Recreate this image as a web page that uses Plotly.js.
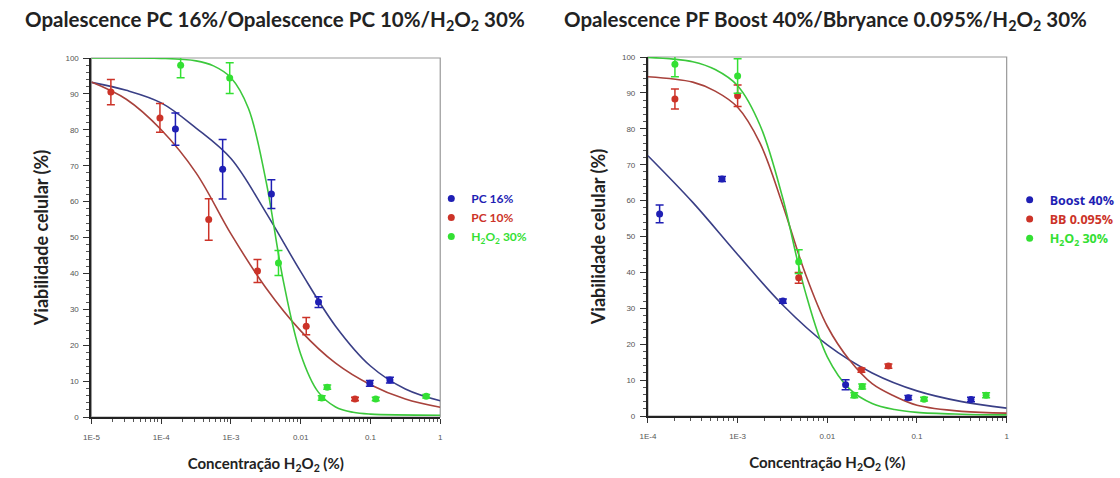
<!DOCTYPE html>
<html>
<head>
<meta charset="utf-8">
<script src="https://cdn.plot.ly/plotly-3.0.1.min.js"></script>
<style>html,body{margin:0;padding:0;background:#fff;}#chart{width:1120px;height:478px;}</style>
</head>
<body>
<div id="chart"></div>
<script>
// ---------- Left chart data (points) ----------
const pc16X = [1.6e-4, 7.6e-4, 3.8e-3, 0.018, 0.098, 0.19];
const pc16Y = [80.2, 69, 62.1, 32, 9.4, 10.3];
const pc16E = [4.5, 8.3, 4, 1.5, 0.8, 0.8];

const pc10X = [1.9e-5, 9.6e-5, 4.8e-4, 2.4e-3, 0.012, 0.06];
const pc10Y = [90.5, 83.3, 55, 40.7, 25.3, 5];
const pc10E = [3.5, 4, 5.8, 3.2, 2.4, 0.5];

const h2o2LX = [1.9e-4, 9.6e-4, 4.8e-3, 0.02, 0.024, 0.119, 0.63];
const h2o2LY = [98, 94.4, 42.9, 5.3, 8.3, 5, 5.8];
const h2o2LE = [3.5, 4.3, 3.5, 0.6, 0.6, 0.5, 0.5];

// ---------- Left chart fitted curves ----------
const curveHalfX = [1e-5, 3.162e-5, 1e-4, 3.162e-4, 1e-3, 3.162e-3, 1e-2, 3.162e-2, 0.1, 0.3162, 1];
const fitPc16Y = [93.2, 91, 87.5, 80.5, 72, 57, 40.5, 25.3, 14.2, 7.8, 4.5];
const fitPc10Y = [93.3, 88.5, 80, 68, 51, 36, 24, 15, 9, 5, 2.7];
const fitH2o2LX = [1e-5, 1e-4, 3.162e-4, 5.623e-4, 1e-3, 1.778e-3, 3.162e-3, 5.623e-3, 1e-2, 1.778e-2, 3.162e-2, 5.623e-2, 0.1, 1];
const fitH2o2LY = [100, 99.9, 99.2, 97.8, 94.5, 86, 66, 38, 17.5, 7, 2.8, 1.3, 0.8, 0.5];

// ---------- Right chart data (points) ----------
const boostX = [1.35e-4, 6.7e-4, 3.2e-3, 0.016, 0.08, 0.4];
const boostY = [56.3, 66, 32, 8.7, 5.1, 4.6];
const boostE = [2.5, 0.7, 0.6, 1.4, 0.6, 0.6];

const bbX = [2e-4, 1e-3, 4.8e-3, 0.024, 0.048];
const bbY = [88.3, 89.2, 38.5, 12.8, 13.9];
const bbE = [2.8, 3, 1.5, 0.6, 0.6];

const h2o2RX = [2e-4, 1e-3, 4.8e-3, 0.02, 0.0245, 0.12, 0.59];
const h2o2RY = [98, 94.7, 43, 5.8, 8.2, 4.7, 5.8];
const h2o2RE = [3.5, 4.8, 3.3, 0.7, 0.7, 0.5, 0.7];

// ---------- Right chart fitted curves ----------
const fitBoostX = [1e-4, 3.162e-4, 1e-3, 3.162e-3, 1e-2, 3.162e-2, 0.1, 0.3162, 1];
const fitBoostY = [72.5, 59.5, 45, 31, 19.8, 12, 7, 4, 2.2];
const fitQX = [1e-4, 3.162e-4, 5.623e-4, 1e-3, 1.778e-3, 3.162e-3, 5.623e-3, 1e-2, 1.778e-2, 3.162e-2, 5.623e-2, 0.1, 0.3162, 1];
const fitBbY = [94.5, 93, 90.5, 86, 76, 59, 40, 25, 15.5, 9, 5.5, 3, 1.3, 0.8];
const fitH2o2RY = [99.9, 98.7, 96.5, 92, 81, 61, 35, 16.5, 7.5, 3.5, 1.8, 1, 0.5, 0.3];

// ---------- Labels ----------
const titleLeft = 'Opalescence PC 16%/Opalescence PC 10%/H<sub>2</sub>O<sub>2</sub> 30%';
const titleRight = 'Opalescence PF Boost 40%/Bbryance 0.095%/H<sub>2</sub>O<sub>2</sub> 30%';
const xTitle = 'Concentração H<sub>2</sub>O<sub>2</sub> (%)';
const yTitle = 'Viabilidade celular (%)';
const leftTickVals = [1e-5, 1e-4, 1e-3, 0.01, 0.1, 1];
const leftTickText = ['1E-5', '1E-4', '1E-3', '0.01', '0.1', '1'];
const rightTickVals = [1e-4, 1e-3, 0.01, 0.1, 1];
const rightTickText = ['1E-4', '1E-3', '0.01', '0.1', '1'];
const yTickVals = [0, 10, 20, 30, 40, 50, 60, 70, 80, 90, 100];

const BLUE = '#1f1fb4', RED = '#cc3328', GREEN = '#33e033';
const BLUE_L = '#3a3f86', RED_L = '#a8423c', GREEN_L = '#3cc83c';

function pts(x, y, e, color, name, xa, ya, leg) {
  return {x: x, y: y, type: 'scatter', mode: 'markers', xaxis: xa, yaxis: ya,
    name: '<b><span style="color:' + color + '">' + name + '</span></b>', legend: leg,
    marker: {color: color, size: 7},
    error_y: {type: 'data', array: e, visible: true, color: color, thickness: 1.5, width: 4},
    cliponaxis: false};
}
function fit(x, y, color, xa, ya) {
  return {x: x, y: y, type: 'scatter', mode: 'lines', xaxis: xa, yaxis: ya, showlegend: false,
    line: {color: color, width: 1.6, shape: 'spline', smoothing: 1}, hoverinfo: 'skip'};
}

const traces = [
  fit(curveHalfX, fitPc16Y, BLUE_L, 'x', 'y'),
  fit(curveHalfX, fitPc10Y, RED_L, 'x', 'y'),
  fit(fitH2o2LX, fitH2o2LY, GREEN_L, 'x', 'y'),
  pts(pc16X, pc16Y, pc16E, BLUE, 'PC 16%', 'x', 'y', 'legend'),
  pts(pc10X, pc10Y, pc10E, RED, 'PC 10%', 'x', 'y', 'legend'),
  pts(h2o2LX, h2o2LY, h2o2LE, GREEN, 'H<sub>2</sub>O<sub>2</sub> 30%', 'x', 'y', 'legend'),
  fit(fitBoostX, fitBoostY, BLUE_L, 'x2', 'y2'),
  fit(fitQX, fitBbY, RED_L, 'x2', 'y2'),
  fit(fitQX, fitH2o2RY, GREEN_L, 'x2', 'y2'),
  pts(boostX, boostY, boostE, BLUE, 'Boost 40%', 'x2', 'y2', 'legend2'),
  pts(bbX, bbY, bbE, RED, 'BB 0.095%', 'x2', 'y2', 'legend2'),
  pts(h2o2RX, h2o2RY, h2o2RE, GREEN, 'H<sub>2</sub>O<sub>2</sub> 30%', 'x2', 'y2', 'legend2')
];

const tickFont = {family: 'Liberation Sans, Arial, sans-serif', size: 8, color: '#555'};
const xTitleFont = {family: 'Lato, Open Sans, sans-serif', size: 15, color: '#222'};
const yTitleFont = {family: 'Lato, Open Sans, sans-serif', size: 18, color: '#222'};

function xAxis(domain, range, tv, tt, anchor) {
  return {type: 'log', domain: domain, range: range, anchor: anchor,
    tickvals: tv, ticktext: tt, ticks: 'outside', ticklen: 5, tickwidth: 1, tickcolor: '#333',
    showline: true, linecolor: '#222', linewidth: 2, showgrid: false, zeroline: false,
    tickfont: tickFont, ticklabelstandoff: 6,
    minor: {ticks: 'outside', ticklen: 3, tickcolor: '#555', dtick: 'D1', showgrid: false},
    title: {text: '<b>' + xTitle + '</b>', font: xTitleFont, standoff: 18}};
}
function yAxis(domain, anchor) {
  return {domain: domain, range: [0, 100], anchor: anchor,
    tickvals: yTickVals, ticks: 'outside', ticklen: 6, tickwidth: 1, tickcolor: '#333',
    showline: true, linecolor: '#222', linewidth: 2, showgrid: false, zeroline: false,
    tickfont: tickFont, ticklabelstandoff: 3,
    minor: {ticks: 'outside', ticklen: 3, tickcolor: '#555', dtick: 2, showgrid: false},
    title: {text: '<b>' + yTitle + '</b>', font: yTitleFont, standoff: 12}};
}

const legendFontL = {family: 'Lato, Open Sans, sans-serif', size: 12, color: '#222'};
const legendFontR = {family: 'Open Sans, Lato, sans-serif', size: 12.5, color: '#222'};
const layout = {
  width: 1120, height: 478, margin: {l: 0, r: 0, t: 0, b: 0},
  paper_bgcolor: '#fff', plot_bgcolor: '#fff', showlegend: true,
  xaxis: xAxis([92/1120, 443/1120], [-5, 0], leftTickVals, leftTickText, 'y'),
  yaxis: yAxis([1 - 417/478, 1 - 58/478], 'x'),
  xaxis2: xAxis([652/1120, 1013/1120], [-4, 0], rightTickVals, rightTickText, 'y2'),
  yaxis2: yAxis([1 - 416/478, 1 - 57/478], 'x2'),
  legend: {x: 434/1120, y: 1 - 184/478, xanchor: 'left', yanchor: 'top', font: legendFontL,
    bgcolor: 'rgba(0,0,0,0)', itemwidth: 30, tracegroupgap: 0},
  legend2: {x: 1016/1120, y: 1 - 185/478, xanchor: 'left', yanchor: 'top', font: legendFontR,
    bgcolor: 'rgba(0,0,0,0)', itemwidth: 30, tracegroupgap: 0},
  shapes: [
    {type: 'rect', xref: 'x domain', yref: 'y domain', x0: 0, x1: 1, y0: 0, y1: 1,
      line: {color: '#999', width: 1.2}, layer: 'below'},
    {type: 'rect', xref: 'x2 domain', yref: 'y2 domain', x0: 0, x1: 1, y0: 0, y1: 1,
      line: {color: '#999', width: 1.2}, layer: 'below'}
  ],
  annotations: [
    {text: '<b>' + titleLeft + '</b>', xref: 'paper', yref: 'paper', x: 277/1120, y: 1 - 21/478,
      xanchor: 'center', yanchor: 'middle', showarrow: false,
      font: {family: 'Lato, Open Sans, sans-serif', size: 20.5, color: '#222'}},
    {text: '<b>' + titleRight + '</b>', xref: 'paper', yref: 'paper', x: 831/1120, y: 1 - 21/478,
      xanchor: 'center', yanchor: 'middle', showarrow: false,
      font: {family: 'Lato, Open Sans, sans-serif', size: 20.5, color: '#222'}}
  ]
};

Plotly.newPlot('chart', traces, layout, {staticPlot: true, displayModeBar: false});
</script>
</body>
</html>
